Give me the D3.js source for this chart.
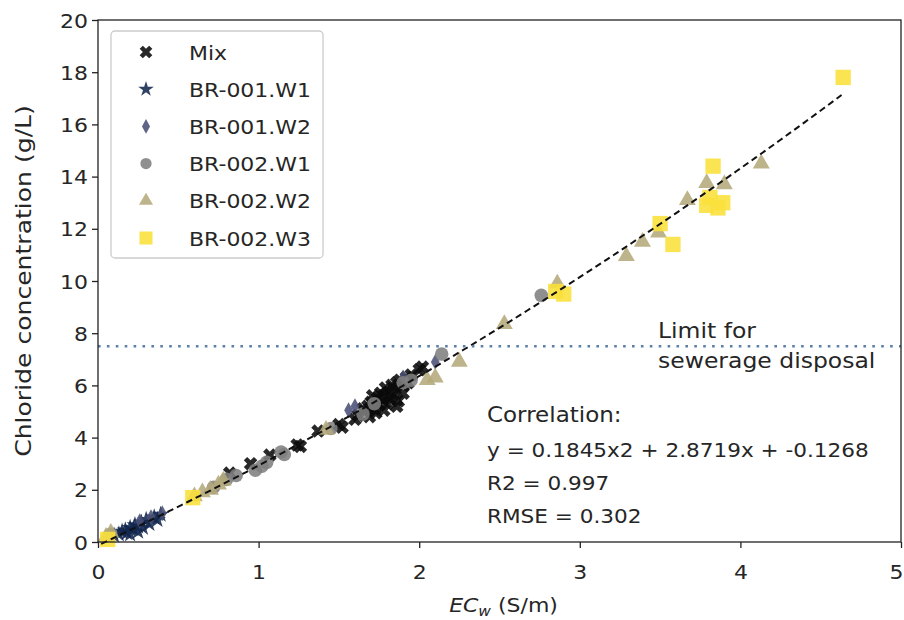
<!DOCTYPE html>
<html>
<head>
<meta charset="utf-8">
<script src="https://cdn.jsdelivr.net/npm/d3@7"></script>
<style>
  body { margin: 0; background: #ffffff; }
  text { font-family: "DejaVu Sans", sans-serif; fill: #262626; }
</style>
</head>
<body>
<svg id="chart" width="904" height="620"></svg>
<script>
// ---- data -------------------------------------------------------------
const seriesNames = ["Mix", "BR-001.W1", "BR-001.W2", "BR-002.W1", "BR-002.W2", "BR-002.W3"];

const mixEC = [0.82, 0.95, 1.07, 1.24, 1.26, 1.37, 1.50, 1.52, 1.62, 1.66, 1.68, 1.70, 1.72, 1.74, 1.75, 1.76,
               1.77, 1.78, 1.79, 1.80, 1.81, 1.82, 1.83, 1.84, 1.85, 1.86, 1.87, 1.88, 1.90, 1.92, 1.95, 2.00,
               2.02, 1.73, 1.69, 1.78, 1.60, 1.65, 1.71, 1.90, 1.93, 1.86];
const mixCl = [2.64, 3.00, 3.33, 3.72, 3.66, 4.25, 4.50, 4.40, 4.85, 5.00, 5.20, 5.35, 5.10, 5.50, 5.25, 5.70,
               5.45, 5.60, 5.90, 5.30, 5.75, 5.50, 6.00, 5.65, 5.85, 6.10, 5.40, 6.20, 6.00, 6.30, 6.40, 6.60,
               6.70, 4.95, 4.80, 5.05, 4.70, 5.10, 5.60, 5.70, 6.10, 5.20];

const w1EC = [0.10, 0.13, 0.15, 0.17, 0.18, 0.20, 0.22, 0.23, 0.25, 0.27, 0.28, 0.30, 0.32, 0.35, 0.37, 0.39, 0.20, 0.25];
const w1Cl = [0.25, 0.30, 0.40, 0.45, 0.35, 0.55, 0.50, 0.65, 0.60, 0.75, 0.55, 0.85, 0.70, 0.95, 0.85, 1.05, 0.30, 0.40];

const w2EC = [0.26, 0.33, 0.40, 1.56, 1.60, 1.90, 2.10];
const w2Cl = [0.80, 0.95, 1.10, 5.05, 5.20, 6.30, 6.90];

const b1EC = [0.08, 0.72, 0.80, 0.86, 0.98, 1.02, 1.05, 1.14, 1.16, 1.45, 1.65, 1.72, 1.90, 1.95, 2.14, 2.76];
const b1Cl = [0.30, 2.10, 2.40, 2.55, 2.75, 2.90, 3.05, 3.45, 3.35, 4.35, 4.90, 5.30, 6.10, 6.20, 7.20, 9.45];

const b2EC = [0.05, 0.08, 0.60, 0.65, 0.70, 0.75, 0.78, 1.42, 2.05, 2.10, 2.25, 2.53, 2.86, 3.29, 3.39, 3.49,
              3.67, 3.79, 3.90, 4.13];
const b2Cl = [0.20, 0.35, 1.75, 1.90, 2.00, 2.20, 2.35, 4.30, 6.20, 6.30, 6.90, 8.35, 9.90, 10.95, 11.50, 11.85,
              13.10, 13.75, 13.70, 14.50];

const b3EC = [0.06, 0.59, 2.85, 2.90, 3.50, 3.58, 3.79, 3.81, 3.83, 3.86, 3.89, 4.64];
const b3Cl = [0.10, 1.70, 9.60, 9.50, 12.20, 11.40, 12.90, 13.20, 14.40, 12.80, 13.00, 17.80];

const xTicks = [0, 1, 2, 3, 4, 5];
const yTicks = [0, 2, 4, 6, 8, 10, 12, 14, 16, 18, 20];

// quadratic fit y = a x^2 + b x + c, and its x span
const fitCoef = [0.1845, 2.8719, -0.1268];
const fitSpan = [0.02, 4.63];

const limitValue = 7.5;
const limitLines = ["Limit for", "sewerage disposal"];
const statLines = ["Correlation:", "y = 0.1845x2 + 2.8719x + -0.1268", "R2 = 0.997", "RMSE = 0.302"];

// ---- layout ------------------------------------------------------------
const svg = d3.select("#chart");
const pLeft = 98, pRight = 901, pTop = 20, pBottom = 542;
const FS = 22, SQ = 0.9;   // text size and vertical squash

const x = d3.scaleLinear().domain([0, 5]).range([pLeft, pRight]);
const y = d3.scaleLinear().domain([0, 20]).range([pBottom, pTop]);

function putText(g, px, py, str, anchor, size) {
  return g.append("text")
    .attr("transform", `translate(${px},${py}) scale(1,${SQ})`)
    .attr("text-anchor", anchor || "start")
    .attr("font-size", size || FS)
    .text(str);
}

// marker shapes
const thinDiamond = (s) => {
  const h = Math.sqrt(s) * 0.95, w = h * 0.55;
  return `M0,${-h}L${w},0L0,${h}L${-w},0Z`;
};
const shapes = [
  { name: seriesNames[0], ec: mixEC, cl: mixCl, color: "#0a0a0a",
    path: (s) => d3.symbol(d3.symbolCross, s)(), rot: 45, size: 115, lsize: 100 },
  { name: seriesNames[1], ec: w1EC, cl: w1Cl, color: "#13284f",
    path: (s) => d3.symbol(d3.symbolStar, s)(), rot: 0, size: 90, lsize: 75 },
  { name: seriesNames[2], ec: w2EC, cl: w2Cl, color: "#4a5078",
    path: thinDiamond, rot: 0, size: 70, lsize: 60 },
  { name: seriesNames[3], ec: b1EC, cl: b1Cl, color: "#7f7f7f",
    path: (s) => d3.symbol(d3.symbolCircle, s)(), rot: 0, size: 145, lsize: 100 },
  { name: seriesNames[4], ec: b2EC, cl: b2Cl, color: "#b5aa7b",
    path: (s) => d3.symbol(d3.symbolTriangle, s)(), rot: 0, size: 125, lsize: 85 },
  { name: seriesNames[5], ec: b3EC, cl: b3Cl, color: "#fbe03a",
    path: (s) => d3.symbol(d3.symbolSquare, s)(), rot: 0, size: 235, lsize: 170 }
];

// ---- scatter -----------------------------------------------------------
const plot = svg.append("g");
shapes.forEach(sh => {
  const pts = sh.ec.map((v, i) => [v, sh.cl[i]]);
  plot.append("g").selectAll("path").data(pts).join("path")
    .attr("d", sh.path(sh.size))
    .attr("transform", d => `translate(${x(d[0])},${y(d[1])}) rotate(${sh.rot})`)
    .attr("fill", sh.color)
    .attr("fill-opacity", 0.88);
});

// fitted curve
const fitX = d3.range(fitSpan[0], fitSpan[1] + 1e-9, (fitSpan[1] - fitSpan[0]) / 120);
const fitPts = fitX.map(v => [v, fitCoef[0] * v * v + fitCoef[1] * v + fitCoef[2]]);
svg.append("path")
  .datum(fitPts)
  .attr("d", d3.line().x(d => x(d[0])).y(d => y(d[1])))
  .attr("fill", "none")
  .attr("stroke", "#111")
  .attr("stroke-width", 2)
  .attr("stroke-dasharray", "6.5,4");

// disposal limit
svg.append("line")
  .attr("x1", pLeft).attr("x2", pRight)
  .attr("y1", y(limitValue)).attr("y2", y(limitValue))
  .attr("stroke", "#5a7fa8")
  .attr("stroke-width", 2.6)
  .attr("stroke-dasharray", "2.6,6.3");

// ---- axes --------------------------------------------------------------
const xAxis = svg.append("g").attr("transform", `translate(0,${pBottom})`)
  .call(d3.axisBottom(x).tickValues(xTicks).tickFormat(d3.format("d")).tickSize(6).tickSizeOuter(0));
const yAxis = svg.append("g").attr("transform", `translate(${pLeft},0)`)
  .call(d3.axisLeft(y).tickValues(yTicks).tickFormat(d3.format("d")).tickSize(6).tickSizeOuter(0));
[xAxis, yAxis].forEach(a => {
  a.select(".domain").remove();
  a.selectAll(".tick line").attr("stroke", "#222").attr("stroke-width", 1.3);
  a.selectAll(".tick text").attr("font-size", FS).attr("fill", "#262626")
    .attr("font-family", "DejaVu Sans, sans-serif");
});
xAxis.selectAll(".tick text").attr("y", 25).attr("dy", "0.71em")
  .attr("transform", `scale(1,${SQ})`);
// keep the last label inside the canvas
xAxis.selectAll(".tick text").filter(d => d === xTicks[xTicks.length - 1])
  .attr("text-anchor", "end").attr("x", 2);
yAxis.selectAll(".tick text").attr("x", -10).attr("dy", "0.36em")
  .attr("transform", `scale(1,${SQ})`).attr("y", 0);

// frame
svg.append("rect")
  .attr("x", pLeft).attr("y", pTop)
  .attr("width", pRight - pLeft).attr("height", pBottom - pTop)
  .attr("fill", "none").attr("stroke", "#222").attr("stroke-width", 1.3);

// axis titles
const xt = svg.append("text")
  .attr("transform", `translate(${(pLeft + pRight) / 2 + 4},612) scale(1,${SQ})`)
  .attr("text-anchor", "middle").attr("font-size", FS);
xt.append("tspan").attr("font-style", "italic").text("EC");
xt.append("tspan").attr("font-style", "italic").attr("font-size", FS * 0.7).attr("dy", 4).text("w");
xt.append("tspan").attr("dy", -4).text(" (S/m)");

svg.append("text")
  .attr("transform", `translate(31,${(pTop + pBottom) / 2}) rotate(-90) scale(1.14,1)`)
  .attr("text-anchor", "middle").attr("font-size", FS)
  .text("Chloride concentration (g/L)");

// ---- annotations -------------------------------------------------------
const ann = svg.append("g");
putText(ann, 658, 338, limitLines[0], "start", 23.5);
putText(ann, 658, 368, limitLines[1], "start", 23.5);
putText(ann, 487, 422, statLines[0], "start", 23);
statLines.slice(1).forEach((s, i) => putText(ann, 487, 457 + i * 33, s, "start", 21.6));

// ---- legend ------------------------------------------------------------
const lg = svg.append("g");
const lgBox = lg.append("rect")
  .attr("x", 111).attr("y", 31).attr("rx", 4).attr("ry", 4)
  .attr("height", 227)
  .attr("fill", "#ffffff").attr("fill-opacity", 0.85)
  .attr("stroke", "#cccccc").attr("stroke-width", 1.3);
let maxW = 0;
shapes.forEach((sh, i) => {
  const cy = 52 + i * 37.2;
  lg.append("path")
    .attr("d", sh.path(sh.lsize))
    .attr("transform", `translate(146,${cy}) rotate(${sh.rot})`)
    .attr("fill", sh.color).attr("fill-opacity", 0.88);
  const t = putText(lg, 189, cy + 7.5, sh.name);
  maxW = Math.max(maxW, t.node().getComputedTextLength());
});
lgBox.attr("width", 189 + maxW + 12 - 111);
</script>
</body>
</html>
